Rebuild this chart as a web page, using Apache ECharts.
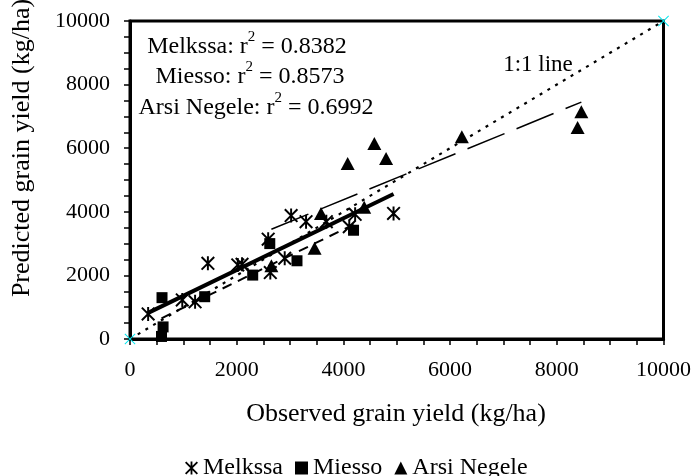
<!DOCTYPE html>
<html><head><meta charset="utf-8">
<script src="https://cdn.jsdelivr.net/npm/echarts@6/dist/echarts.min.js"></script>
<style>html,body{margin:0;padding:0;background:#fff}#c{width:694px;height:476px}</style>
</head><body><div id="c"></div>
<script>
// ---- data ----
const tickValues = [0, 2000, 4000, 6000, 8000, 10000];
const tickLabels = ['0', '2000', '4000', '6000', '8000', '10000'];
const seriesNames = ['Melkssa', 'Miesso', 'Arsi Negele'];

const melkssaX = [340, 980, 1220, 1460, 2020, 2100, 2630, 2590, 2900, 3020, 3300, 3680, 4110, 4220, 4940];
const melkssaY = [790, 1230, 1170, 2380, 2330, 2350, 2090, 3140, 2540, 3880, 3690, 3690, 3530, 3920, 3950];

const miessoX = [600, 620, 590, 1400, 2300, 2620, 3130, 4190];
const miessoY = [1300, 380, 80, 1330, 2010, 3000, 2460, 3420];

const arsiX = [2650, 3460, 3580, 4080, 4390, 4580, 4800, 6220, 8390, 8460];
const arsiY = [2300, 2850, 3950, 5520, 4140, 6150, 5680, 6360, 6650, 7150];

const melkTrendX = [340, 4940];
const melkTrendY = [820, 4560];
const miessoTrendX = [590, 4190];
const miessoTrendY = [650, 3600];
const arsiTrendX = [2650, 8460];
const arsiTrendY = [3450, 7450];
const oneToOneX = [0, 10000];
const oneToOneY = [0, 10000];

const r2Labels = [
  ['Melkssa', '0.8382'],
  ['Miesso', '0.8573'],
  ['Arsi Negele', '0.6992']
];

// ---- helpers ----
const zip = (xs, ys) => xs.map((x, i) => [x, ys[i]]);
const FONT = 'Liberation Serif';
const asterisk = 'path://M8.6 0L11.4 0L11.4 20L8.6 20Z M0 2L2 0L20 18L18 20Z M18 0L20 2L2 20L0 18Z';
const xMark = 'path://M0 1.2L1.2 0L20 18.8L18.8 20Z M18.8 0L20 1.2L1.2 20L0 18.8Z';
const fmtTick = v => { const i = tickValues.indexOf(v); return i >= 0 ? tickLabels[i] : ''; };

const chart = echarts.init(document.getElementById('c'), null, {renderer: 'canvas'});

const axisCommon = {
  type: 'value',
  min: tickValues[0],
  max: tickValues[tickValues.length - 1],
  interval: tickValues[1] - tickValues[0],
  axisLine: {show: true, onZero: false, lineStyle: {color: '#000', width: 3}},
  axisTick: {show: true, inside: false, length: 6, lineStyle: {color: '#000', width: 1.5}},
  minorTick: {show: true, splitNumber: 4, length: 6, lineStyle: {color: '#000', width: 1.5}},
  splitLine: {show: false},
  axisLabel: {color: '#000', fontFamily: FONT, fontSize: 22, margin: 20, formatter: fmtTick}
};

const annGraphics = r2Labels.map((r, i) => ({
  type: 'text',
  x: [247, 250, 256][i],
  y: [47, 77, 108][i],
  style: {
    text: '{a|' + r[0] + ': r}{s|2}{a| = ' + r[1] + '}',
    align: 'center',
    verticalAlign: 'middle',
    rich: {
      a: {fontFamily: FONT, fontSize: 24, lineHeight: 24, verticalAlign: 'bottom', fill: '#000'},
      s: {fontFamily: FONT, fontSize: 15, lineHeight: 15, padding: [0, 0, 14, 0], verticalAlign: 'bottom', fill: '#000'}
    }
  }
}));

chart.setOption({
  animation: false,
  backgroundColor: '#fff',
  grid: {left: 130, right: 29, top: 21, bottom: 137, show: true, borderColor: '#000', borderWidth: 3, backgroundColor: 'transparent'},
  xAxis: axisCommon,
  yAxis: axisCommon,
  legend: {
    data: seriesNames,
    left: 180, top: 451,
    itemWidth: 13, itemHeight: 13, itemGap: 12,
    textStyle: {color: '#000', fontFamily: FONT, fontSize: 24}
  },
  graphic: [
    {type: 'text', x: 396, y: 414, style: {text: 'Observed grain yield (kg/ha)', fontFamily: FONT, fontSize: 26, fill: '#000', align: 'center', verticalAlign: 'middle'}},
    {type: 'text', x: 22, y: 148, rotation: Math.PI / 2, style: {text: 'Predicted grain yield (kg/ha)', fontFamily: FONT, fontSize: 26, fill: '#000', align: 'center', verticalAlign: 'middle'}},
    {type: 'text', x: 538, y: 65, style: {text: '1:1 line', fontFamily: FONT, fontSize: 23, fill: '#000', align: 'center', verticalAlign: 'middle'}}
  ].concat(annGraphics),
  series: [
    {name: '1:1', type: 'line', data: zip(oneToOneX, oneToOneY), symbol: xMark, symbolSize: 11, showSymbol: true,
     clip: false, itemStyle: {color: '#00e5ee'}, lineStyle: {color: '#000', width: 2.2, type: [3, 6]}, z: 3},
    {name: 'MelkTrend', type: 'line', data: zip(melkTrendX, melkTrendY), symbol: 'none',
     lineStyle: {color: '#000', width: 4}, z: 4},
    {name: 'MiessoTrend', type: 'line', data: zip(miessoTrendX, miessoTrendY), symbol: 'none',
     lineStyle: {color: '#000', width: 2, type: [10, 7]}, z: 3},
    {name: 'ArsiTrend', type: 'line', data: zip(arsiTrendX, arsiTrendY), symbol: 'none',
     lineStyle: {color: '#000', width: 1.5, type: [40, 13]}, z: 3},
    {name: seriesNames[0], type: 'scatter', data: zip(melkssaX, melkssaY), symbol: asterisk, symbolSize: 14,
     itemStyle: {color: '#000', opacity: 1}, z: 5},
    {name: seriesNames[1], type: 'scatter', data: zip(miessoX, miessoY), symbol: 'rect', symbolSize: 11,
     itemStyle: {color: '#000', opacity: 1}, z: 5},
    {name: seriesNames[2], type: 'scatter', data: zip(arsiX, arsiY), symbol: 'triangle', symbolSize: [14, 13],
     itemStyle: {color: '#000', opacity: 1}, z: 5}
  ]
});
</script>
</body></html>
